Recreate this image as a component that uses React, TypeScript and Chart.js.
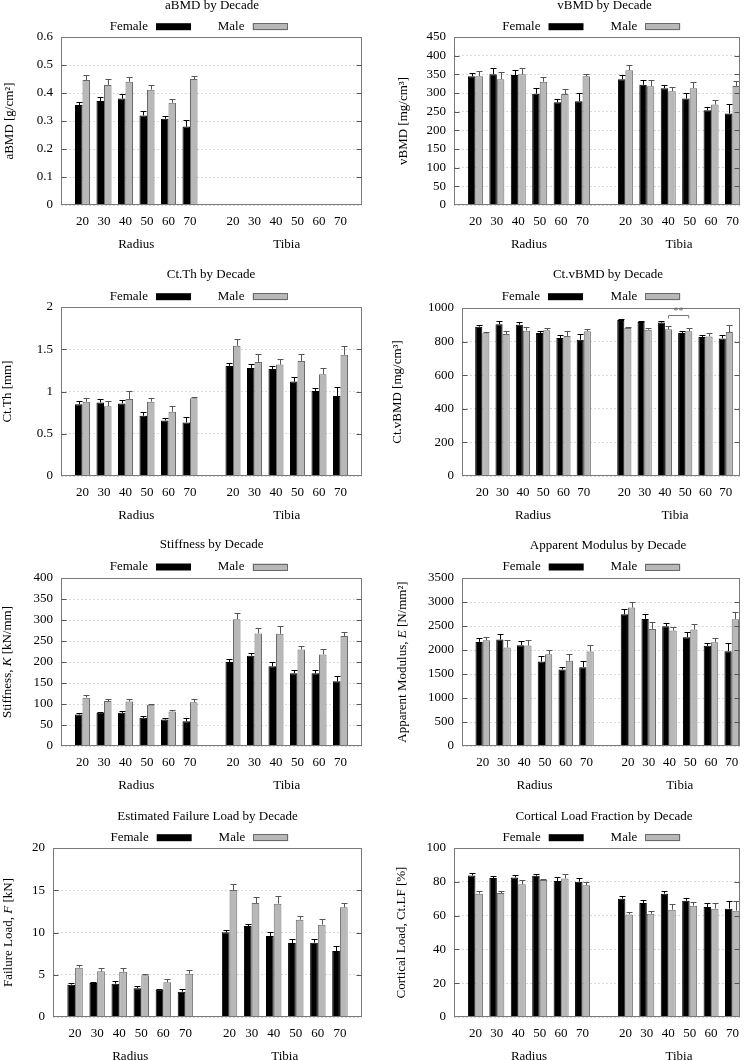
import React, { useEffect, useRef } from 'react';
import { Chart, registerables } from 'chart.js';

Chart.register(...registerables);

const FONT = "'Liberation Serif', 'Times New Roman', Times, serif";

// ---------- categories / labels ----------
const decades = ['20', '30', '40', '50', '60', '70'];
const sites = ['Radius', 'Tibia'];
const sexes = ['Female', 'Male'];
// slot of each bar pair on the x axis (one empty slot between Radius and Tibia)
const xPositions = [1, 2, 3, 4, 5, 6, 8, 9, 10, 11, 12, 13];
const xTickLabels = [...decades, ...decades];

// ---------- data (Radius 20..70, Tibia 20..70) ----------
const aBMDFemale = [0.357, 0.371, 0.38, 0.32, 0.308, 0.28, null, null, null, null, null, null];
const aBMDFemaleErr = [0.01, 0.015, 0.016, 0.016, 0.009, 0.023, null, null, null, null, null, null];
const aBMDMale = [0.446, 0.429, 0.44, 0.412, 0.365, 0.45, null, null, null, null, null, null];
const aBMDMaleErr = [0.017, 0.021, 0.017, 0.015, 0.015, 0.012, null, null, null, null, null, null];

const vBMDFemale = [345, 350, 348, 298, 275, 278, 337, 322, 313, 285, 254, 245];
const vBMDFemaleErr = [9, 16, 13, 16, 8, 22, 11, 12, 9, 15, 9, 25];
const vBMDMale = [345, 337, 350, 330, 297, 345, 361, 318, 305, 313, 269, 319];
const vBMDMaleErr = [14, 18, 16, 13, 15, 5, 13, 16, 12, 17, 11, 14];

const ctThFemale = [0.848, 0.871, 0.859, 0.713, 0.657, 0.634, 1.303, 1.279, 1.267, 1.117, 1.006, 0.947];
const ctThFemaleErr = [0.04, 0.04, 0.04, 0.047, 0.03, 0.07, 0.04, 0.05, 0.04, 0.06, 0.03, 0.11];
const ctThMale = [0.879, 0.824, 0.911, 0.879, 0.76, 0.919, 1.541, 1.35, 1.319, 1.362, 1.204, 1.434];
const ctThMaleErr = [0.04, 0.06, 0.095, 0.04, 0.07, 0.02, 0.08, 0.09, 0.067, 0.08, 0.08, 0.1];

const ctvBMDFemale = [889, 903, 901, 851, 821, 811, 929, 917, 913, 851, 827, 819];
const ctvBMDFemaleErr = [12, 18, 16, 14, 18, 34, 8, 8, 12, 14, 12, 20];
const ctvBMDMale = [849, 845, 865, 868, 833, 861, 881, 871, 873, 861, 831, 857];
const ctvBMDMaleErr = [8, 18, 24, 14, 28, 16, 8, 10, 22, 20, 20, 40];
// significance bracket: between Tibia 40 and Tibia 50 (male bars)
const ctvBMDSignif = [{ from: 8, to: 9, level: 956, label: '**' }];

const stiffFemale = [75, 79, 79, 67, 63, 59, 200, 215, 190, 173, 173, 154];
const stiffFemaleErr = [3, 3, 4, 4, 3, 7, 7, 6, 9, 9, 9, 13];
const stiffMale = [115, 107, 106, 98, 82, 104, 302, 268, 267, 230, 218, 262];
const stiffMaleErr = [6, 6, 5, 2, 4, 8, 15, 14, 18, 8, 14, 10];

const modFemale = [2169, 2218, 2100, 1760, 1594, 1643, 2745, 2648, 2495, 2266, 2086, 1975];
const modFemaleErr = [90, 125, 83, 118, 56, 131, 110, 97, 69, 111, 69, 173];
const modMale = [2204, 2051, 2093, 1913, 1774, 1968, 2883, 2440, 2405, 2426, 2162, 2640];
const modMaleErr = [70, 150, 125, 97, 139, 132, 118, 145, 76, 110, 97, 150];

const loadFemale = [3.83, 4.02, 3.94, 3.39, 3.23, 3.0, 10.02, 10.77, 9.59, 8.76, 8.8, 7.81];
const loadFemaleErr = [0.2, 0.16, 0.3, 0.28, 0.12, 0.35, 0.32, 0.24, 0.47, 0.43, 0.47, 0.63];
const loadMale = [5.84, 5.4, 5.36, 4.93, 4.1, 5.13, 15.03, 13.49, 13.41, 11.52, 10.93, 12.98];
const loadMaleErr = [0.35, 0.35, 0.4, 0.12, 0.35, 0.4, 0.7, 0.67, 0.87, 0.43, 0.67, 0.51];

const ctlfFemale = [83.8, 82.2, 82.6, 83.6, 80.5, 80.1, 70.0, 67.5, 73.0, 68.8, 65.1, 64.1];
const ctlfFemaleErr = [1.6, 1.4, 1.4, 1.2, 2.3, 2.3, 1.6, 1.5, 1.6, 1.6, 2.4, 4.3];
const ctlfMale = [73.0, 73.4, 78.5, 81.1, 81.9, 77.9, 60.7, 61.1, 63.5, 65.9, 64.1, 62.9];
const ctlfMaleErr = [1.4, 1.0, 2.6, 0.6, 2.7, 2.2, 1.6, 1.4, 3.4, 2.1, 3.4, 5.5];

// ---------- panel definitions (text + layout) ----------
type Part = { t: string; it?: boolean };
type Panel = {
  title: string;
  yTitle: Part[];
  yMax: number;
  yStep: number;
  xMax: number;
  female: (number | null)[];
  femaleErr: (number | null)[];
  male: (number | null)[];
  maleErr: (number | null)[];
  signif?: { from: number; to: number; level: number; label: string }[];
  x: number; y: number; w: number; h: number;
  plot: { l: number; r: number; t: number; b: number };
  titleX: number; titleY: number;
  yTitleX: number;
  legendY: number; legendBoxes: [number, number];
};

const LEFT = { x: 0, w: 377 };
const RIGHT = { x: 377, w: 378 };

const panels: Panel[] = [
  {
    title: 'aBMD by Decade', yTitle: [{ t: 'aBMD [g/cm²]' }], yMax: 0.6, yStep: 0.1, xMax: 14,
    female: aBMDFemale, femaleErr: aBMDFemaleErr, male: aBMDMale, maleErr: aBMDMaleErr,
    ...LEFT, y: 0, h: 265, plot: { l: 61, r: 362, t: 37, b: 205 },
    titleX: 212, titleY: 6, yTitleX: 10, legendY: 26.7, legendBoxes: [156, 252.5],
  },
  {
    title: 'vBMD by Decade', yTitle: [{ t: 'vBMD [mg/cm³]' }], yMax: 450, yStep: 50, xMax: 13.35,
    female: vBMDFemale, femaleErr: vBMDFemaleErr, male: vBMDMale, maleErr: vBMDMaleErr,
    ...RIGHT, y: 0, h: 265, plot: { l: 454, r: 740, t: 37, b: 205 },
    titleX: 604.5, titleY: 6, yTitleX: 404, legendY: 26.7, legendBoxes: [548.5, 645.3],
  },
  {
    title: 'Ct.Th by Decade', yTitle: [{ t: 'Ct.Th [mm]' }], yMax: 2, yStep: 0.5, xMax: 14,
    female: ctThFemale, femaleErr: ctThFemaleErr, male: ctThMale, maleErr: ctThMaleErr,
    ...LEFT, y: 265, h: 265, plot: { l: 61, r: 362, t: 307, b: 476 },
    titleX: 211, titleY: 275, yTitleX: 8, legendY: 296.7, legendBoxes: [156, 252.5],
  },
  {
    title: 'Ct.vBMD by Decade', yTitle: [{ t: 'Ct.vBMD [mg/cm³]' }], yMax: 1000, yStep: 200, xMax: 13.7,
    female: ctvBMDFemale, femaleErr: ctvBMDFemaleErr, male: ctvBMDMale, maleErr: ctvBMDMaleErr,
    signif: ctvBMDSignif,
    ...RIGHT, y: 265, h: 265, plot: { l: 462, r: 740, t: 308, b: 476 },
    titleX: 608, titleY: 275, yTitleX: 398, legendY: 296.7, legendBoxes: [548, 645.3],
  },
  {
    title: 'Stiffness by Decade', yTitle: [{ t: 'Stiffness, ' }, { t: 'K', it: true }, { t: ' [kN/mm]' }],
    yMax: 400, yStep: 50, xMax: 14,
    female: stiffFemale, femaleErr: stiffFemaleErr, male: stiffMale, maleErr: stiffMaleErr,
    ...LEFT, y: 530, h: 265, plot: { l: 61, r: 362, t: 578, b: 746 },
    titleX: 211.7, titleY: 545, yTitleX: 8, legendY: 567, legendBoxes: [156, 252.5],
  },
  {
    title: 'Apparent Modulus by Decade', yTitle: [{ t: 'Apparent Modulus, ' }, { t: 'E', it: true }, { t: ' [N/mm²]' }],
    yMax: 3500, yStep: 500, xMax: 13.4,
    female: modFemale, femaleErr: modFemaleErr, male: modMale, maleErr: modMaleErr,
    ...RIGHT, y: 530, h: 265, plot: { l: 462, r: 740, t: 578, b: 746 },
    titleX: 608, titleY: 545.5, yTitleX: 403, legendY: 567, legendBoxes: [548.7, 645.3],
  },
  {
    title: 'Estimated Failure Load by Decade', yTitle: [{ t: 'Failure Load, ' }, { t: 'F', it: true }, { t: ' [kN]' }],
    yMax: 20, yStep: 5, xMax: 14,
    female: loadFemale, femaleErr: loadFemaleErr, male: loadMale, maleErr: loadMaleErr,
    ...LEFT, y: 795, h: 265, plot: { l: 53, r: 362, t: 848, b: 1017 },
    titleX: 207.5, titleY: 816.5, yTitleX: 9, legendY: 837.7, legendBoxes: [156.7, 253.3],
  },
  {
    title: 'Cortical Load Fraction by Decade', yTitle: [{ t: 'Cortical Load, Ct.LF [%]' }],
    yMax: 100, yStep: 20, xMax: 13.35,
    female: ctlfFemale, femaleErr: ctlfFemaleErr, male: ctlfMale, maleErr: ctlfMaleErr,
    ...RIGHT, y: 795, h: 265, plot: { l: 454, r: 740, t: 848, b: 1017 },
    titleX: 604, titleY: 816.5, yTitleX: 402, legendY: 837.7, legendBoxes: [548.7, 645.3],
  },
];

// ---------- styles ----------
const FEMALE_FILL = '#000000';
const MALE_FILL = '#b8b8b8';
const MALE_EDGE = '#6a6a6a';
const FRAME = '#7a7a7a';
const TEXT = '#000000';

const fmtNum = (v: number) => String(Math.round(v * 1000) / 1000);

function makeDecor(p: Panel) {
  return {
    id: 'decor',
    afterDraw(chart: any) {
      const { ctx, chartArea: a, scales } = chart;
      const xs = scales.x;
      const ys = scales.y;
      const ox = p.x;
      const oy = p.y;
      ctx.save();

      // error bars (upper half only)
      const sets = [
        { vals: p.female, errs: p.femaleErr, color: '#000' },
        { vals: p.male, errs: p.maleErr, color: '#555' },
      ];
      sets.forEach((s, di) => {
        const meta = chart.getDatasetMeta(di);
        ctx.strokeStyle = s.color;
        ctx.lineWidth = 1;
        meta.data.forEach((el: any, i: number) => {
          const v = s.vals[i];
          const e = s.errs[i];
          if (v == null || e == null) return;
          const x = Math.round(el.x) + 0.5;
          const yTop = Math.round(ys.getPixelForValue(v + e)) + 0.5;
          ctx.beginPath();
          ctx.moveTo(x, el.y);
          ctx.lineTo(x, yTop);
          ctx.moveTo(x - 3, yTop);
          ctx.lineTo(x + 3, yTop);
          ctx.stroke();
        });
      });

      // frame
      const L = Math.round(a.left) + 0.5;
      const R = Math.round(a.right) - 0.5;
      const T = Math.round(a.top) + 0.5;
      const B = Math.round(a.bottom) - 0.5;
      ctx.strokeStyle = FRAME;
      ctx.lineWidth = 1;
      ctx.strokeRect(L, T, R - L, B - T);

      // inner tick marks on both vertical axes
      ctx.strokeStyle = '#555';
      ys.ticks.forEach((t: any, i: number) => {
        if (i === 0 || i === ys.ticks.length - 1) return;
        const y = Math.round(ys.getPixelForValue(t.value)) + 0.5;
        ctx.beginPath();
        ctx.moveTo(L, y);
        ctx.lineTo(L + 5, y);
        ctx.moveTo(R, y);
        ctx.lineTo(R - 5, y);
        ctx.stroke();
      });

      // significance brackets
      (p.signif || []).forEach((sg) => {
        const meta = chart.getDatasetMeta(1);
        const x1 = meta.data[sg.from].x;
        const x2 = meta.data[sg.to].x;
        const y = Math.round(ys.getPixelForValue(sg.level)) + 0.5;
        ctx.strokeStyle = '#777';
        ctx.beginPath();
        ctx.moveTo(x1, y + 3);
        ctx.lineTo(x1, y);
        ctx.lineTo(x2, y);
        ctx.lineTo(x2, y + 3);
        ctx.stroke();
        ctx.fillStyle = '#666';
        ctx.font = `10px ${FONT}`;
        ctx.textAlign = 'center';
        ctx.textBaseline = 'middle';
        ctx.fillText(sg.label, (x1 + x2) / 2, y - 4);
      });

      // title
      ctx.fillStyle = TEXT;
      ctx.font = `13px ${FONT}`;
      ctx.textAlign = 'center';
      ctx.textBaseline = 'middle';
      ctx.fillText(p.title, p.titleX - ox, p.titleY - oy);

      // legend: text then sample box
      const ly = p.legendY - oy;
      sexes.forEach((name, i) => {
        const bx = p.legendBoxes[i] - ox;
        ctx.fillStyle = TEXT;
        ctx.textAlign = 'right';
        ctx.fillText(name, bx - 8, ly);
        ctx.fillStyle = i === 0 ? FEMALE_FILL : MALE_FILL;
        ctx.fillRect(bx, ly - 3.5, 35, 7);
        if (i === 1) {
          ctx.strokeStyle = MALE_EDGE;
          ctx.strokeRect(Math.round(bx) + 0.5, Math.round(ly - 3.5) + 0.5, 34, 6);
        }
      });

      // site labels under the decade ticks
      ctx.fillStyle = TEXT;
      ctx.textAlign = 'center';
      [xPositions.slice(0, 6), xPositions.slice(6)].forEach((grp, gi) => {
        const mid = (grp[0] + grp[grp.length - 1]) / 2;
        ctx.fillText(sites[gi], xs.getPixelForValue(mid), a.bottom + 40);
      });

      // y axis title (rotated, with italic parts)
      ctx.translate(p.yTitleX - ox, (a.top + a.bottom) / 2);
      ctx.rotate(-Math.PI / 2);
      const widths = p.yTitle.map((part) => {
        ctx.font = `${part.it ? 'italic ' : ''}13px ${FONT}`;
        return ctx.measureText(part.t).width;
      });
      const total = widths.reduce((s, w) => s + w, 0);
      let cx = -total / 2;
      ctx.textAlign = 'left';
      p.yTitle.forEach((part, i) => {
        ctx.font = `${part.it ? 'italic ' : ''}13px ${FONT}`;
        ctx.fillText(part.t, cx, 0);
        cx += widths[i];
      });

      ctx.restore();
    },
  };
}

function buildConfig(p: Panel): any {
  const toPoints = (vals: (number | null)[]) => xPositions.map((x, i) => ({ x, y: vals[i] }));
  return {
    type: 'bar',
    data: {
      datasets: [
        { label: sexes[0], data: toPoints(p.female), backgroundColor: FEMALE_FILL, borderColor: FEMALE_FILL, borderWidth: 1 },
        { label: sexes[1], data: toPoints(p.male), backgroundColor: MALE_FILL, borderColor: MALE_EDGE, borderWidth: 1 },
      ],
    },
    options: {
      responsive: false,
      animation: false,
      devicePixelRatio: 1,
      events: [],
      datasets: { bar: { categoryPercentage: 0.7, barPercentage: 1, grouped: true } },
      layout: { padding: { top: p.plot.t - p.y, right: p.x + p.w - p.plot.r, left: 0, bottom: 0 } },
      plugins: { legend: { display: false }, title: { display: false }, tooltip: { enabled: false } },
      scales: {
        x: {
          type: 'linear',
          min: 0,
          max: p.xMax,
          offset: false,
          grid: { display: false, drawTicks: false, offset: false },
          border: { display: false },
          afterBuildTicks: (s: any) => {
            s.ticks = xPositions.map((v) => ({ value: v }));
          },
          afterFit: (s: any) => {
            s.height = p.y + p.h - p.plot.b;
          },
          ticks: {
            autoSkip: false,
            maxRotation: 0,
            minRotation: 0,
            padding: 9,
            color: TEXT,
            font: { family: FONT, size: 13 },
            callback: (v: number) => {
              const i = xPositions.indexOf(v);
              return i >= 0 ? xTickLabels[i] : '';
            },
          },
        },
        y: {
          type: 'linear',
          min: 0,
          max: p.yMax,
          afterFit: (s: any) => {
            s.width = p.plot.l - p.x;
          },
          grid: { color: '#dadada', lineWidth: 1, drawTicks: false },
          border: { display: false, dash: [2, 2] },
          ticks: {
            stepSize: p.yStep,
            padding: 8,
            color: TEXT,
            font: { family: FONT, size: 13 },
            callback: (v: number) => fmtNum(v),
          },
        },
      },
    },
    plugins: [makeDecor(p)],
  };
}

function PanelChart({ p }: { p: Panel }) {
  const ref = useRef<HTMLCanvasElement>(null);
  useEffect(() => {
    const chart = new Chart(ref.current as HTMLCanvasElement, buildConfig(p));
    return () => chart.destroy();
  }, [p]);
  return (
    <canvas
      ref={ref}
      width={p.w}
      height={p.h}
      style={{ position: 'absolute', left: p.x, top: p.y, width: p.w, height: p.h }}
    />
  );
}

export default function App() {
  return (
    <div
      style={{
        position: 'absolute',
        left: 0,
        top: 0,
        width: 755,
        height: 1060,
        background: '#ffffff',
        overflow: 'hidden',
      }}
    >
      {panels.map((p, i) => (
        <PanelChart key={i} p={p} />
      ))}
    </div>
  );
}
